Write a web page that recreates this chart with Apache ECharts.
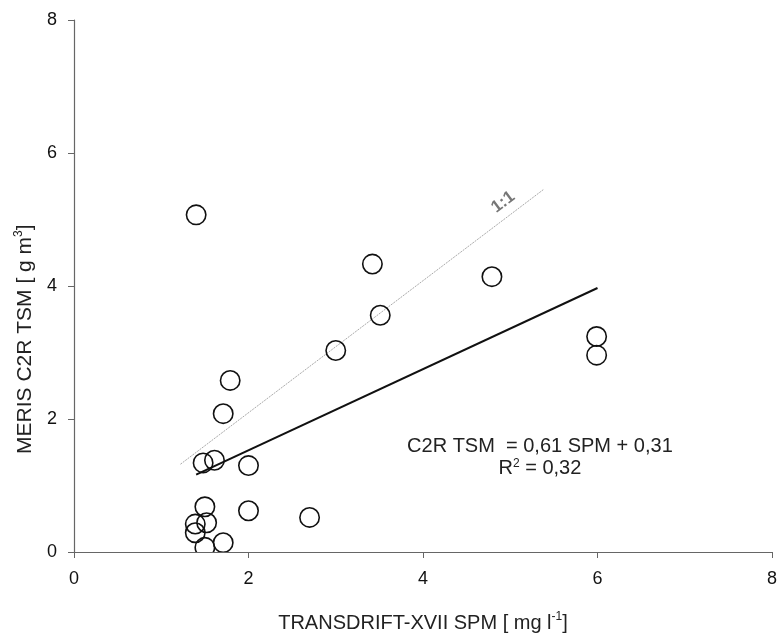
<!DOCTYPE html>
<html>
<head>
<meta charset="utf-8">
<script src="https://cdn.jsdelivr.net/npm/echarts@6/dist/echarts.min.js"></script>
<style>html,body{margin:0;padding:0;background:#fff;}#c{width:780px;height:634px;}</style>
</head>
<body>
<div id="c"></div>
<script>
// Observations: [TRANSDRIFT-XVII SPM, MERIS C2R TSM]
var spm = [1.40, 3.42, 4.79, 3.51, 5.99, 5.99, 3.00, 1.79, 1.71, 1.48, 1.61, 2.00, 1.50, 2.00, 2.70, 1.52, 1.39, 1.39, 1.50, 1.71];
var tsm = [5.07, 4.33, 4.14, 3.56, 3.24, 2.96, 3.03, 2.58, 2.08, 1.34, 1.38, 1.30, 0.68, 0.62, 0.52, 0.44, 0.42, 0.29, 0.07, 0.14];
// Regression line C2R TSM = 0.61 SPM + 0.31, drawn between these SPM values
var regSlope = 0.61;
var regIntercept = 0.31;
var regX = [1.40, 6.00];
// 1:1 line end points
var oneX = [1.22, 5.38];
var oneY = [1.32, 5.45];
var axisTicks = [0, 2, 4, 6, 8];
var oneLabelAt = [4.92, 5.26];
var eqAt = [5.34, 1.75];
var yNameAt = 3.2; // y value where the y-axis title is centred
var eqLines = ['C2R TSM  = 0,61 SPM + 0,31', 'R{sup|2} = 0,32'];

var points = spm.map(function (x, i) { return [x, tsm[i]]; });
var regLine = regX.map(function (x) { return [x, regSlope * x + regIntercept]; });
var oneLine = oneX.map(function (x, i) { return [x, oneY[i]]; });

var chart = echarts.init(document.getElementById('c'));
var font = 'Liberation Sans, Arial, sans-serif';
var axisCol = '#666';
var supStyle = { fontSize: 12, verticalAlign: 'top', padding: [0, 0, 12, 0], fontFamily: font, color: '#222' };
chart.setOption({
  animation: false,
  backgroundColor: '#fff',
  grid: { left: 74, right: 8, top: 20, bottom: 82, containLabel: false, outerBoundsMode: 'none' },
  xAxis: {
    type: 'value', min: axisTicks[0], max: axisTicks[axisTicks.length - 1], interval: 2,
    splitLine: { show: false },
    axisLine: { show: true, onZero: false, lineStyle: { color: axisCol, width: 1.2 } },
    axisTick: { show: true, length: 6, lineStyle: { color: axisCol } },
    axisLabel: { color: '#111', fontSize: 18, fontFamily: font, margin: 18 },
    name: 'TRANSDRIFT-XVII SPM [ mg l{sup|-1}]',
    nameLocation: 'middle', nameGap: 59,
    nameTextStyle: { color: '#222', fontSize: 20, fontFamily: font, rich: { sup: supStyle } }
  },
  yAxis: {
    type: 'value', min: axisTicks[0], max: axisTicks[axisTicks.length - 1], interval: 2,
    splitLine: { show: false },
    axisLine: { show: true, onZero: false, lineStyle: { color: axisCol, width: 1.2 } },
    axisTick: { show: true, length: 6, lineStyle: { color: axisCol } },
    axisLabel: { color: '#111', fontSize: 18, fontFamily: font, margin: 17 }
  },
  series: [
    {
      type: 'line', data: oneLine, symbol: 'none', silent: true,
      lineStyle: { color: '#aaa', width: 1, type: [2, 1] }, z: 1
    },
    {
      type: 'line', data: regLine, symbol: 'none', silent: true,
      lineStyle: { color: '#111', width: 2 }, z: 1
    },
    {
      type: 'custom', data: points, clip: true, z: 3,
      renderItem: function (params, api) {
        var p = api.coord([api.value(0), api.value(1)]);
        return { type: 'circle', shape: { cx: p[0], cy: p[1], r: 9.7 },
          style: { fill: 'rgba(255,255,255,0)', stroke: '#111', lineWidth: 1.6 } };
      }
    }
  ]
});

var p0 = chart.convertToPixel({ gridIndex: 0 }, [oneX[0], oneY[0]]);
var p1 = chart.convertToPixel({ gridIndex: 0 }, [oneX[1], oneY[1]]);
var angle = Math.atan2(p0[1] - p1[1], p1[0] - p0[0]);
var lp = chart.convertToPixel({ gridIndex: 0 }, oneLabelAt);
var ep = chart.convertToPixel({ gridIndex: 0 }, eqAt);
var yp = chart.convertToPixel({ gridIndex: 0 }, [0, yNameAt]);
chart.setOption({
  graphic: [
    { type: 'text', x: lp[0], y: lp[1], rotation: angle,
      style: { text: '1:1', fill: '#777', font: 'bold 17px ' + font, textAlign: 'center', textVerticalAlign: 'middle' } },
    { type: 'text', x: ep[0], y: ep[1],
      style: { text: eqLines.join('\n'), fill: '#222', fontSize: 20, fontFamily: font, lineHeight: 22,
        textAlign: 'center', textVerticalAlign: 'top',
        rich: { sup: { fontSize: 12, verticalAlign: 'top', padding: [0, 0, 12, 0], fill: '#222', fontFamily: font } } } },
    { type: 'text', x: yp[0] - 49, y: yp[1], rotation: Math.PI / 2,
      style: { text: 'MERIS C2R TSM [ g m{sup|3}]', fill: '#222', fontSize: 21, fontFamily: font,
        textAlign: 'center', textVerticalAlign: 'middle',
        rich: { sup: { fontSize: 12, verticalAlign: 'top', padding: [0, 0, 12, 0], fill: '#222', fontFamily: font } } } }
  ]
});
</script>
</body>
</html>
